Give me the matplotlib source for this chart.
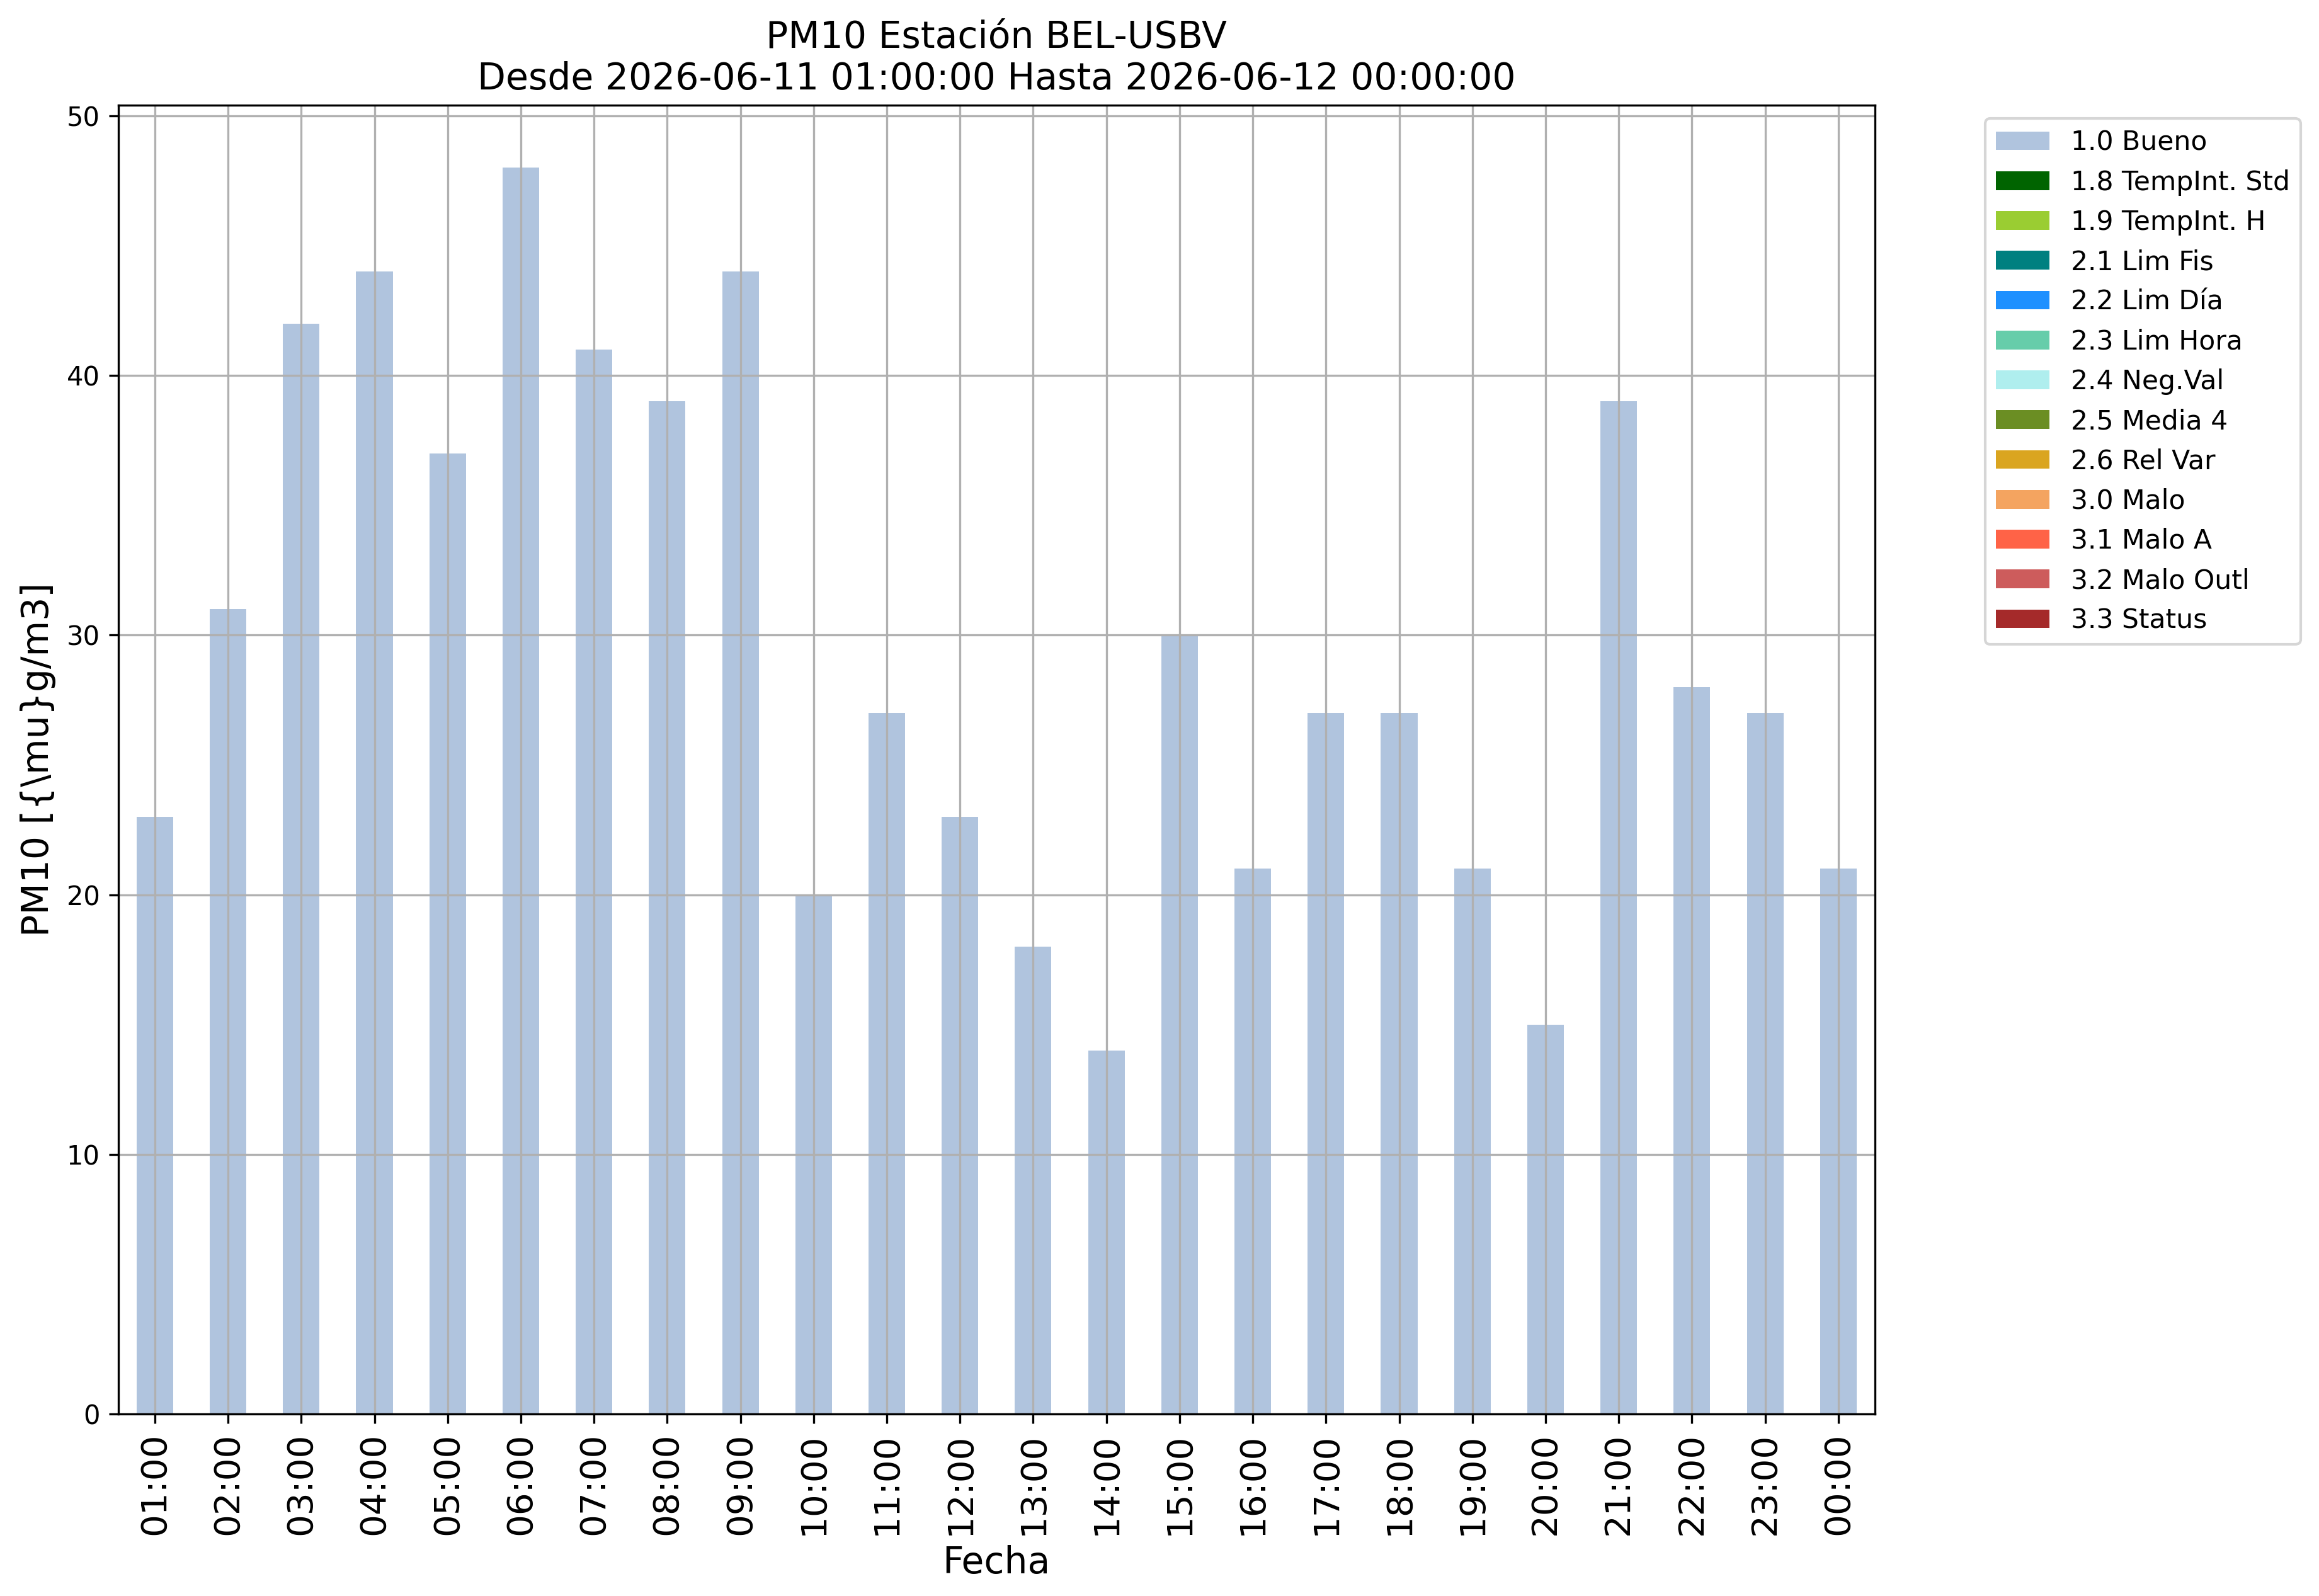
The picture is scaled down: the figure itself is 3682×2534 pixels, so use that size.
import matplotlib
matplotlib.use("Agg")
import matplotlib.pyplot as plt
import numpy as np

hours = ["01:00", "02:00", "03:00", "04:00", "05:00", "06:00", "07:00", "08:00",
         "09:00", "10:00", "11:00", "12:00", "13:00", "14:00", "15:00", "16:00",
         "17:00", "18:00", "19:00", "20:00", "21:00", "22:00", "23:00", "00:00"]
bueno = [23, 31, 42, 44, 37, 48, 41, 39, 44, 20, 27, 23, 18, 14, 30, 21,
         27, 27, 21, 15, 39, 28, 27, 21]

categories = ["1.0 Bueno", "1.8 TempInt. Std", "1.9 TempInt. H", "2.1 Lim Fis",
              "2.2 Lim Día", "2.3 Lim Hora", "2.4 Neg.Val", "2.5 Media 4",
              "2.6 Rel Var", "3.0 Malo", "3.1 Malo A", "3.2 Malo Outl", "3.3 Status"]
colors = ["lightsteelblue", "darkgreen", "yellowgreen", "teal", "dodgerblue",
          "mediumaquamarine", "paleturquoise", "olivedrab", "goldenrod",
          "sandybrown", "tomato", "indianred", "brown"]

series = {c: [0] * len(hours) for c in categories}
series["1.0 Bueno"] = bueno

dpi = 300
fig = plt.figure(figsize=(3682 / dpi, 2534 / dpi), dpi=dpi)
ax = fig.add_axes([0.051, 0.114, 0.7575, 0.820])

x = np.arange(len(hours))
bottom = np.zeros(len(hours))
for c, col in zip(categories, colors):
    vals = np.array(series[c], dtype=float)
    ax.bar(x, vals, 0.5, bottom=bottom, color=col, label=c)
    bottom += vals

ax.set_xlim(-0.5, len(hours) - 0.5)
ax.set_ylim(0, max(bueno) * 1.05)
ax.set_xticks(x)
ax.set_xticklabels(hours, rotation=90, fontsize=13.5)
ax.tick_params(axis='y', labelsize=10)
ax.grid(True)
ax.set_xlabel("Fecha", fontsize=14)
ax.set_ylabel(r"PM10 [{\mu}g/m3]", fontsize=14)
ax.set_title("PM10 Estación BEL-USBV\nDesde 2026-06-11 01:00:00 Hasta 2026-06-12 00:00:00", fontsize=14)
ax.legend(bbox_to_anchor=(1.055, 1), loc='upper left', fontsize=10.2)

fig.savefig("out.png", dpi=dpi)
